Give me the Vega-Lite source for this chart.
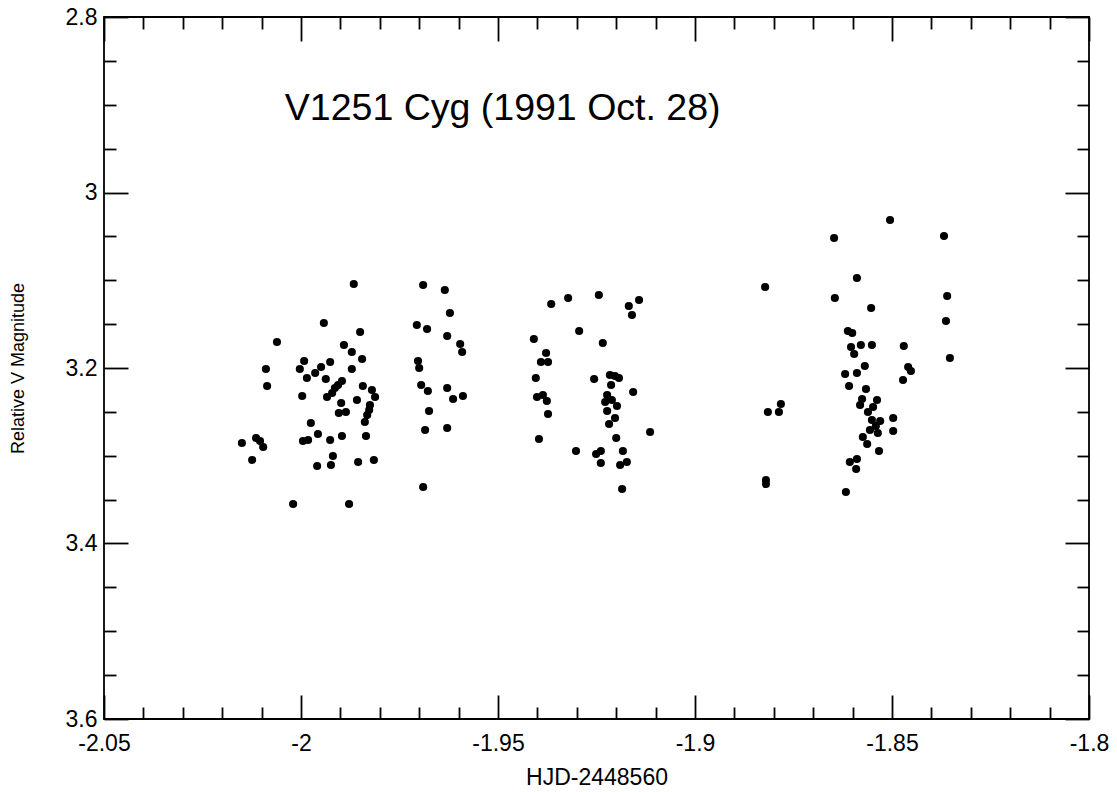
{
  "$schema": "https://vega.github.io/schema/vega-lite/v6.json",
  "width": 985,
  "height": 702,
  "autosize": {"type": "none"},
  "padding": {"left": 104, "top": 17, "right": 28, "bottom": 73},
  "background": "white",
  "config": {
    "view": {"stroke": "black", "strokeWidth": 1.8, "fill": "white"},
    "font": "Liberation Sans",
    "axis": {
      "domain": false,
      "grid": false,
      "labelFont": "Liberation Sans",
      "titleFont": "Liberation Sans",
      "labelColor": "black",
      "titleColor": "black",
      "tickColor": "black",
      "tickWidth": 1.8,
      "titleFontWeight": "normal",
      "labelFlush": false,
      "labelOverlap": false,
      "labelBound": false
    }
  },
  "datasets": {
    "obs": [
      {"t": -2.0150, "m": 3.2855}, {"t": -2.0124, "m": 3.3048}, {"t": -2.0114, "m": 3.2798}, {"t": -2.0104, "m": 3.2832},
      {"t": -2.0096, "m": 3.2900}, {"t": -2.0089, "m": 3.2011}, {"t": -2.0086, "m": 3.2205}, {"t": -2.0061, "m": 3.1704},
      {"t": -2.0003, "m": 3.2011}, {"t": -1.9997, "m": 3.2319}, {"t": -1.9992, "m": 3.1920}, {"t": -1.9985, "m": 3.2114},
      {"t": -1.9995, "m": 3.2832}, {"t": -1.9982, "m": 3.2820}, {"t": -1.9975, "m": 3.2627}, {"t": -1.9964, "m": 3.2057},
      {"t": -1.9949, "m": 3.1989}, {"t": -1.9942, "m": 3.1487}, {"t": -1.9937, "m": 3.2125}, {"t": -1.9934, "m": 3.2330},
      {"t": -1.9926, "m": 3.1932}, {"t": -1.9921, "m": 3.2285}, {"t": -1.9914, "m": 3.2228}, {"t": -1.9906, "m": 3.2194},
      {"t": -1.9896, "m": 3.2148}, {"t": -1.9898, "m": 3.2399}, {"t": -1.9904, "m": 3.2513}, {"t": -1.9886, "m": 3.2501},
      {"t": -1.9891, "m": 3.1738}, {"t": -1.9871, "m": 3.1818}, {"t": -1.9871, "m": 3.2011}, {"t": -1.9866, "m": 3.1043},
      {"t": -1.9858, "m": 3.2365}, {"t": -1.9850, "m": 3.1590}, {"t": -1.9845, "m": 3.1897}, {"t": -1.9843, "m": 3.2205},
      {"t": -1.9832, "m": 3.2536}, {"t": -1.9827, "m": 3.2479}, {"t": -1.9825, "m": 3.2422}, {"t": -1.9820, "m": 3.2251},
      {"t": -1.9812, "m": 3.2330}, {"t": -1.9838, "m": 3.2615}, {"t": -1.9835, "m": 3.2775}, {"t": -1.9957, "m": 3.2752},
      {"t": -1.9926, "m": 3.2820}, {"t": -1.9959, "m": 3.3117}, {"t": -1.9924, "m": 3.3105}, {"t": -1.9919, "m": 3.3003},
      {"t": -1.9896, "m": 3.2775}, {"t": -1.9855, "m": 3.3071}, {"t": -1.9815, "m": 3.3048}, {"t": -2.0020, "m": 3.3550},
      {"t": -1.9878, "m": 3.3550},
      {"t": -1.9690, "m": 3.1054}, {"t": -1.9635, "m": 3.1111}, {"t": -1.9622, "m": 3.1373}, {"t": -1.9706, "m": 3.1510},
      {"t": -1.9680, "m": 3.1556}, {"t": -1.9629, "m": 3.1635}, {"t": -1.9596, "m": 3.1726}, {"t": -1.9591, "m": 3.1818},
      {"t": -1.9703, "m": 3.1920}, {"t": -1.9700, "m": 3.2000}, {"t": -1.9695, "m": 3.2194}, {"t": -1.9678, "m": 3.2262},
      {"t": -1.9629, "m": 3.2228}, {"t": -1.9589, "m": 3.2319}, {"t": -1.9614, "m": 3.2353}, {"t": -1.9675, "m": 3.2490},
      {"t": -1.9685, "m": 3.2706}, {"t": -1.9629, "m": 3.2684}, {"t": -1.9690, "m": 3.3356},
      {"t": -1.9365, "m": 3.1271}, {"t": -1.9322, "m": 3.1202}, {"t": -1.9244, "m": 3.1168}, {"t": -1.9168, "m": 3.1293},
      {"t": -1.9142, "m": 3.1225}, {"t": -1.9160, "m": 3.1396}, {"t": -1.9294, "m": 3.1578}, {"t": -1.9409, "m": 3.1670},
      {"t": -1.9234, "m": 3.1715}, {"t": -1.9378, "m": 3.1829}, {"t": -1.9391, "m": 3.1932}, {"t": -1.9373, "m": 3.1932},
      {"t": -1.9404, "m": 3.2114}, {"t": -1.9256, "m": 3.2125}, {"t": -1.9216, "m": 3.2080}, {"t": -1.9203, "m": 3.2091},
      {"t": -1.9193, "m": 3.2114}, {"t": -1.9213, "m": 3.2194}, {"t": -1.9157, "m": 3.2274}, {"t": -1.9401, "m": 3.2330},
      {"t": -1.9386, "m": 3.2308}, {"t": -1.9376, "m": 3.2376}, {"t": -1.9223, "m": 3.2308}, {"t": -1.9228, "m": 3.2387},
      {"t": -1.9211, "m": 3.2365}, {"t": -1.9198, "m": 3.2433}, {"t": -1.9373, "m": 3.2524}, {"t": -1.9223, "m": 3.2490},
      {"t": -1.9203, "m": 3.2570}, {"t": -1.9396, "m": 3.2809}, {"t": -1.9302, "m": 3.2946}, {"t": -1.9251, "m": 3.2980},
      {"t": -1.9239, "m": 3.2946}, {"t": -1.9239, "m": 3.3083}, {"t": -1.9200, "m": 3.2798}, {"t": -1.9183, "m": 3.2946},
      {"t": -1.9173, "m": 3.3071}, {"t": -1.9190, "m": 3.3105}, {"t": -1.9114, "m": 3.2729}, {"t": -1.9185, "m": 3.3379},
      {"t": -1.9218, "m": 3.2638},
      {"t": -1.8822, "m": 3.1077}, {"t": -1.8815, "m": 3.2501}, {"t": -1.8787, "m": 3.2501}, {"t": -1.8782, "m": 3.2410},
      {"t": -1.8820, "m": 3.3276}, {"t": -1.8820, "m": 3.3322},
      {"t": -1.8647, "m": 3.0519}, {"t": -1.8505, "m": 3.0313}, {"t": -1.8589, "m": 3.0974}, {"t": -1.8645, "m": 3.1202},
      {"t": -1.8553, "m": 3.1316}, {"t": -1.8612, "m": 3.1578}, {"t": -1.8601, "m": 3.1601}, {"t": -1.8604, "m": 3.1761},
      {"t": -1.8579, "m": 3.1738}, {"t": -1.8596, "m": 3.1840}, {"t": -1.8551, "m": 3.1738}, {"t": -1.8470, "m": 3.1749},
      {"t": -1.8569, "m": 3.1977}, {"t": -1.8459, "m": 3.1989}, {"t": -1.8452, "m": 3.2034}, {"t": -1.8619, "m": 3.2068},
      {"t": -1.8589, "m": 3.2057}, {"t": -1.8472, "m": 3.2137}, {"t": -1.8609, "m": 3.2205}, {"t": -1.8566, "m": 3.2239},
      {"t": -1.8576, "m": 3.2353}, {"t": -1.8538, "m": 3.2365}, {"t": -1.8581, "m": 3.2422}, {"t": -1.8548, "m": 3.2444},
      {"t": -1.8561, "m": 3.2501}, {"t": -1.8530, "m": 3.2604}, {"t": -1.8551, "m": 3.2593}, {"t": -1.8541, "m": 3.2661},
      {"t": -1.8556, "m": 3.2706}, {"t": -1.8574, "m": 3.2786}, {"t": -1.8536, "m": 3.2741}, {"t": -1.8497, "m": 3.2570},
      {"t": -1.8497, "m": 3.2718}, {"t": -1.8563, "m": 3.2866}, {"t": -1.8533, "m": 3.2946}, {"t": -1.8589, "m": 3.3037},
      {"t": -1.8607, "m": 3.3071}, {"t": -1.8591, "m": 3.3151}, {"t": -1.8617, "m": 3.3413},
      {"t": -1.8368, "m": 3.0496}, {"t": -1.8360, "m": 3.1179}, {"t": -1.8363, "m": 3.1464}, {"t": -1.8353, "m": 3.1886}
    ],
    "ann": [{"t": -2.0041, "m": 2.9174, "label": "V1251 Cyg (1991 Oct. 28)"}]
  },
  "layer": [
    {
      "data": {"name": "obs"},
      "mark": {"type": "circle", "size": 66, "color": "black", "opacity": 1},
      "encoding": {
        "x": {
          "field": "t", "type": "quantitative",
          "scale": {"domain": [-2.05, -1.8], "nice": false, "zero": false},
          "axis": {
            "orient": "bottom", "title": "HJD-2448560", "titleFontSize": 23,
            "titleX": 492.5, "titleY": 58, "titleAlign": "center", "titleBaseline": "middle",
            "values": [-2.05, -2, -1.95, -1.9, -1.85, -1.8],
            "labelExpr": "'' + datum.value", "labelFontSize": 23, "labelPadding": 13,
            "ticks": false
          }
        },
        "y": {
          "field": "m", "type": "quantitative",
          "scale": {"domain": [2.8, 3.6], "reverse": true, "nice": false, "zero": false},
          "axis": {
            "orient": "left", "title": "Relative V Magnitude", "titleFontSize": 18,
            "titleX": -86, "titleY": 351, "titleAngle": -90, "titleAlign": "center", "titleBaseline": "middle",
            "values": [2.8, 3, 3.2, 3.4, 3.6],
            "labelExpr": "'' + datum.value", "labelFontSize": 23, "labelPadding": 7,
            "ticks": false
          }
        }
      }
    },
    {
      "data": {"name": "obs"},
      "mark": {"type": "circle", "size": 1, "opacity": 0},
      "encoding": {
        "x": {"field": "t", "type": "quantitative",
          "axis": {"orient": "bottom", "title": null, "labels": false, "tickSize": -24,
            "values": [-2.05, -2, -1.95, -1.9, -1.85, -1.8]}},
        "y": {"field": "m", "type": "quantitative",
          "axis": {"orient": "left", "title": null, "labels": false, "tickSize": -24,
            "values": [2.8, 3, 3.2, 3.4, 3.6]}}
      }
    },
    {
      "data": {"name": "obs"},
      "mark": {"type": "circle", "size": 1, "opacity": 0},
      "encoding": {
        "x": {"field": "t", "type": "quantitative",
          "axis": {"orient": "bottom", "title": null, "labels": false, "tickSize": -12,
            "values": [-2.04, -2.03, -2.02, -2.01, -1.99, -1.98, -1.97, -1.96, -1.94, -1.93, -1.92, -1.91, -1.89, -1.88, -1.87, -1.86, -1.84, -1.83, -1.82, -1.81]}},
        "y": {"field": "m", "type": "quantitative",
          "axis": {"orient": "left", "title": null, "labels": false, "tickSize": -12,
            "values": [2.85, 2.9, 2.95, 3.05, 3.1, 3.15, 3.25, 3.3, 3.35, 3.45, 3.5, 3.55]}}
      }
    },
    {
      "data": {"name": "obs"},
      "mark": {"type": "circle", "size": 1, "opacity": 0},
      "encoding": {
        "x": {"field": "t", "type": "quantitative",
          "axis": {"orient": "top", "title": null, "labels": false, "tickSize": -24,
            "values": [-2.05, -2, -1.95, -1.9, -1.85, -1.8]}},
        "y": {"field": "m", "type": "quantitative",
          "axis": {"orient": "right", "title": null, "labels": false, "tickSize": -24,
            "values": [2.8, 3, 3.2, 3.4, 3.6]}}
      }
    },
    {
      "data": {"name": "obs"},
      "mark": {"type": "circle", "size": 1, "opacity": 0},
      "encoding": {
        "x": {"field": "t", "type": "quantitative",
          "axis": {"orient": "top", "title": null, "labels": false, "tickSize": -12,
            "values": [-2.04, -2.03, -2.02, -2.01, -1.99, -1.98, -1.97, -1.96, -1.94, -1.93, -1.92, -1.91, -1.89, -1.88, -1.87, -1.86, -1.84, -1.83, -1.82, -1.81]}},
        "y": {"field": "m", "type": "quantitative",
          "axis": {"orient": "right", "title": null, "labels": false, "tickSize": -12,
            "values": [2.85, 2.9, 2.95, 3.05, 3.1, 3.15, 3.25, 3.3, 3.35, 3.45, 3.5, 3.55]}}
      }
    },
    {
      "data": {"name": "ann"},
      "mark": {"type": "text", "fontSize": 37.5, "font": "Liberation Sans", "align": "left", "baseline": "alphabetic", "color": "black"},
      "encoding": {
        "x": {"field": "t", "type": "quantitative", "axis": null},
        "y": {"field": "m", "type": "quantitative", "axis": null},
        "text": {"field": "label"}
      }
    }
  ],
  "resolve": {"axis": {"x": "independent", "y": "independent"}}
}
